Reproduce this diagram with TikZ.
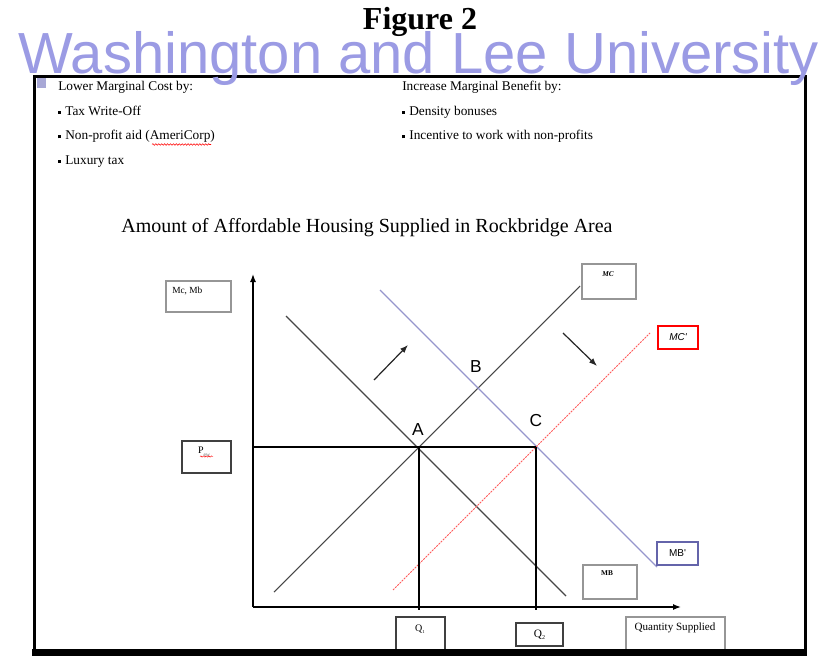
\documentclass[tikz,border=0pt]{standalone}
\usepackage{fontspec}
\setmainfont{Liberation Serif}
\newfontfamily\arialf{Liberation Sans}
\usetikzlibrary{arrows.meta,decorations.pathmorphing}
\definecolor{wm}{RGB}{155,155,228}
\definecolor{bsq}{RGB}{168,168,214}
\definecolor{mbpc}{RGB}{150,150,205}
\definecolor{mbpbox}{RGB}{100,100,170}
\definecolor{curve}{RGB}{70,70,70}
\definecolor{boxgray}{RGB}{150,150,150}
\definecolor{mcpred}{RGB}{255,90,90}
\newcommand{\bul}{\raisebox{1.3pt}{\rule{2.3pt}{2.3pt}}\hspace{3pt}}
\begin{document}
\begin{tikzpicture}[x=0.75pt,y=-0.75pt,
  txt/.style={inner sep=0pt,font=\fontsize{10}{12}\selectfont,anchor=base west},
  gbox/.style={draw=boxgray,line width=1.1pt,inner sep=0pt,fill=white},
  dbox/.style={draw=black!75,line width=1.1pt,inner sep=0pt,fill=white},
  tiny/.style={inner sep=0pt,font=\fontsize{6.5}{7}\selectfont},
  ptlabel/.style={inner sep=0pt,font=\arialf\fontsize{13}{14}\selectfont},
  curveline/.style={draw=curve,line width=0.8pt},
  axisarrow/.style={draw=black,line width=1pt,-{Latex[length=6pt,width=4.5pt]}},
  shiftarrow/.style={draw=black!85,line width=0.9pt,-{Latex[length=6pt,width=4.5pt]}}]
\useasboundingbox (0,0) rectangle (818,656);
\clip (0,0) rectangle (818,656);
\fill[white] (0,0) rectangle (818,656);
% title
\node[inner sep=0pt,anchor=base,font=\bfseries\fontsize{24}{26}\selectfont] (fig) at (420,30) {Figure 2};
% frame
\draw[line width=2.25pt] (34,77) rectangle (805,652);
\fill[black] (32,649) rectangle (807,656);
\fill[bsq] (37,78) rectangle (46,88);
% text lists
\node[txt] (l1) at (58,91) {Lower Marginal Cost by:};
\node[txt] (l2) at (58,115.5) {\bul Tax Write-Off};
\node[txt] (l3) at (58,140) {\bul Non-profit aid (AmeriCorp)};
\node[txt] (l4) at (58,164.5) {\bul Luxury tax};
\draw[red,line width=0.4pt,decorate,decoration={snake,amplitude=0.6,segment length=2.2}] (152,144.5) -- (211,144.5);
\node[txt] (r1) at (402,91) {Increase Marginal Benefit by:};
\node[txt] (r2) at (402,115.5) {\bul Density bonuses};
\node[txt] (r3) at (402,140) {\bul Incentive to work with non-profits};
% chart title
\node[inner sep=0pt,anchor=base,font=\fontsize{15}{17}\selectfont] (ctitle) at (367,233) {Amount of Affordable Housing Supplied in Rockbridge Area};
% coordinates
\coordinate (O) at (253,607);
\coordinate (Ytip) at (253,274);
\coordinate (Xtip) at (681,607);
\coordinate (mc1) at (274,592);
\coordinate (mc2) at (580,286);
\coordinate (mb1) at (286,316);
\coordinate (mb2) at (566,596);
\coordinate (mbp1) at (380,290);
\coordinate (mbp2) at (657,567);
\coordinate (mcp1) at (393,590);
\coordinate (mcp2) at (650,333);
\coordinate (Pax) at (253,447);
\coordinate (A) at (419,447);
\coordinate (C) at (536,447);
\coordinate (q1b) at (419,610);
\coordinate (q2b) at (536,610);
% curves
\draw[curveline] (mc1) -- (mc2);
\draw[curveline] (mb1) -- (mb2);
\draw[draw=mbpc,line width=0.8pt] (mbp1) -- (mbp2);
\draw[draw=mcpred,line width=0.7pt,dash pattern=on 1.5pt off 0.8pt] (mcp1) -- (mcp2);
% guides
\draw[black,line width=0.8pt] (Pax) -- (C);
\draw[black,line width=0.8pt] (A) -- (q1b);
\draw[black,line width=0.8pt] (C) -- (q2b);
% axes
\draw[axisarrow] (O) -- (Ytip);
\draw[axisarrow] (O) -- (Xtip);
% shift arrows
\coordinate (s1a) at (374,380);
\coordinate (s1b) at (408,345);
\coordinate (s2a) at (563,333);
\coordinate (s2b) at (597,366);
\draw[shiftarrow] (s1a) -- (s1b);
\draw[shiftarrow] (s2a) -- (s2b);
% point labels
\node[ptlabel] (lA) at (418,430) {A};
\node[ptlabel] (lB) at (476,367) {B};
\node[ptlabel] (lC) at (536,421) {C};
% boxes
\node[gbox,minimum width=48.75pt,minimum height=23.25pt] (bmcmb) at (198.5,296.5) {};
\node[tiny,anchor=west,font=\fontsize{7}{8}\selectfont] (tmcmb) at (172,291) {Mc, Mb};
\node[dbox,minimum width=36.75pt,minimum height=24pt] (bp) at (206.5,457) {};
\node[tiny,font=\fontsize{7.5}{8}\selectfont] (tp) at (204,452) {P\raisebox{-2pt}{\fontsize{4}{4}\selectfont\color{black!60}ew}};
\draw[red,line width=0.35pt,decorate,decoration={snake,amplitude=0.5,segment length=2}] (200,456.5) -- (213,456.5);
\node[gbox,minimum width=40.5pt,minimum height=26.25pt] (bmc) at (609,281.5) {};
\node[tiny,font=\itshape\bfseries\fontsize{5.5}{6}\selectfont] (tmc) at (608,274) {MC};
\node[draw=red,line width=1.1pt,inner sep=0pt,fill=white,minimum width=30pt,minimum height=17.25pt,font=\arialf\itshape\fontsize{7.5}{8}\selectfont] (bmcp) at (678,337.5) {MC'};
\node[draw=mbpbox,line width=1.1pt,inner sep=0pt,fill=white,minimum width=30.75pt,minimum height=17.25pt,font=\arialf\fontsize{7.5}{8}\selectfont] (bmbp) at (677.5,553.5) {MB'};
\node[gbox,minimum width=40.5pt,minimum height=25.5pt] (bmb) at (610,582) {};
\node[tiny,font=\bfseries\fontsize{5.5}{6}\selectfont] (tmb) at (607,573) {MB};
\node[dbox,minimum width=36.75pt,minimum height=26.25pt] (bq1) at (420.5,634.5) {};
\node[tiny,font=\fontsize{7.5}{8}\selectfont] (tq1) at (420,629) {Q\raisebox{-1.5pt}{\fontsize{3.5}{4}\selectfont 1}};
\node[dbox,minimum width=35.25pt,minimum height=17.25pt,font=\fontsize{8.5}{9}\selectfont] (bq2) at (539.5,634.5) {Q\raisebox{-1.5pt}{\fontsize{4.5}{5}\selectfont 2}};
\node[gbox,minimum width=74.25pt,minimum height=26.25pt] (bqs) at (675.5,634.5) {};
\node[tiny,font=\fontsize{8.3}{9}\selectfont] (tqs) at (675,628) {Quantity Supplied};
\fill[black] (32,649) rectangle (807,656);
% watermark
\node[inner sep=0pt,anchor=base west,text=wm,font=\arialf\fontsize{43.5}{46}\selectfont] (wmark) at (18,74) {Washington and Lee University};
\end{tikzpicture}
\end{document}
